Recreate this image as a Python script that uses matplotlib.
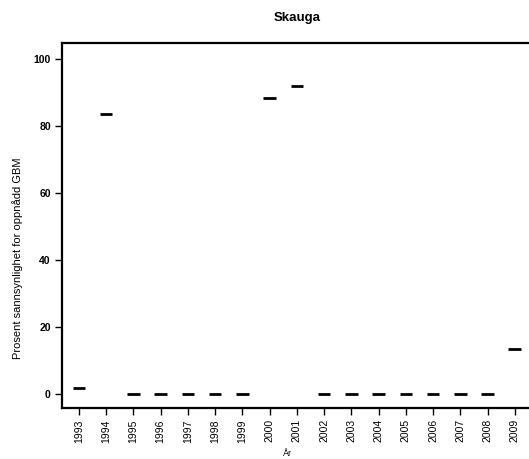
import matplotlib
matplotlib.use("Agg")
import matplotlib.pyplot as plt
import numpy as np

years = ["1993", "1994", "1995", "1996", "1997", "1998", "1999", "2000", "2001",
         "2002", "2003", "2004", "2005", "2006", "2007", "2008", "2009"]
values = [1.8, 83.5, 0, 0, 0, 0, 0, 88.4, 91.9, 0, 0, 0, 0, 0, 0, 0, 13.3]
yticks = [0, 20, 40, 60, 80, 100]

plt.rcParams['font.family'] = ['Liberation Sans', 'DejaVu Sans']

fig = plt.figure(figsize=(5.29, 4.59), dpi=100)
ax = fig.add_axes([0.117, 0.111, 0.887, 0.795])

x = np.arange(len(years))
ax.hlines(values, x - 0.23, x + 0.23, colors='black', linewidth=2.0)

ax.set_xlim(-0.62, len(years) - 0.4)
ax.set_ylim(-4.3, 104.7)
ax.set_xticks(x)
ax.set_xticklabels(years, rotation=90, fontsize=7.5)
ax.set_yticks(yticks)
ax.set_yticklabels([str(v) for v in yticks], fontsize=7.5, fontweight='bold')
ax.tick_params(axis='both', direction='out', length=5, width=1.0, color='black', pad=3)

for s in ax.spines.values():
    s.set_linewidth(1.6)

fig.text(297 / 529, 1 - 18 / 459, "Skauga", fontsize=9.5, fontweight='bold',
         ha='center', va='center')
fig.text(18 / 529, 1 - 258 / 459, "Prosent sannsynlighet for oppnådd GBM",
         fontsize=8, rotation=90, ha='center', va='center')
fig.text(287 / 529, 1 - 454 / 459, "År", fontsize=6.5, ha='center', va='center')

fig.savefig("out.png", dpi=100)
